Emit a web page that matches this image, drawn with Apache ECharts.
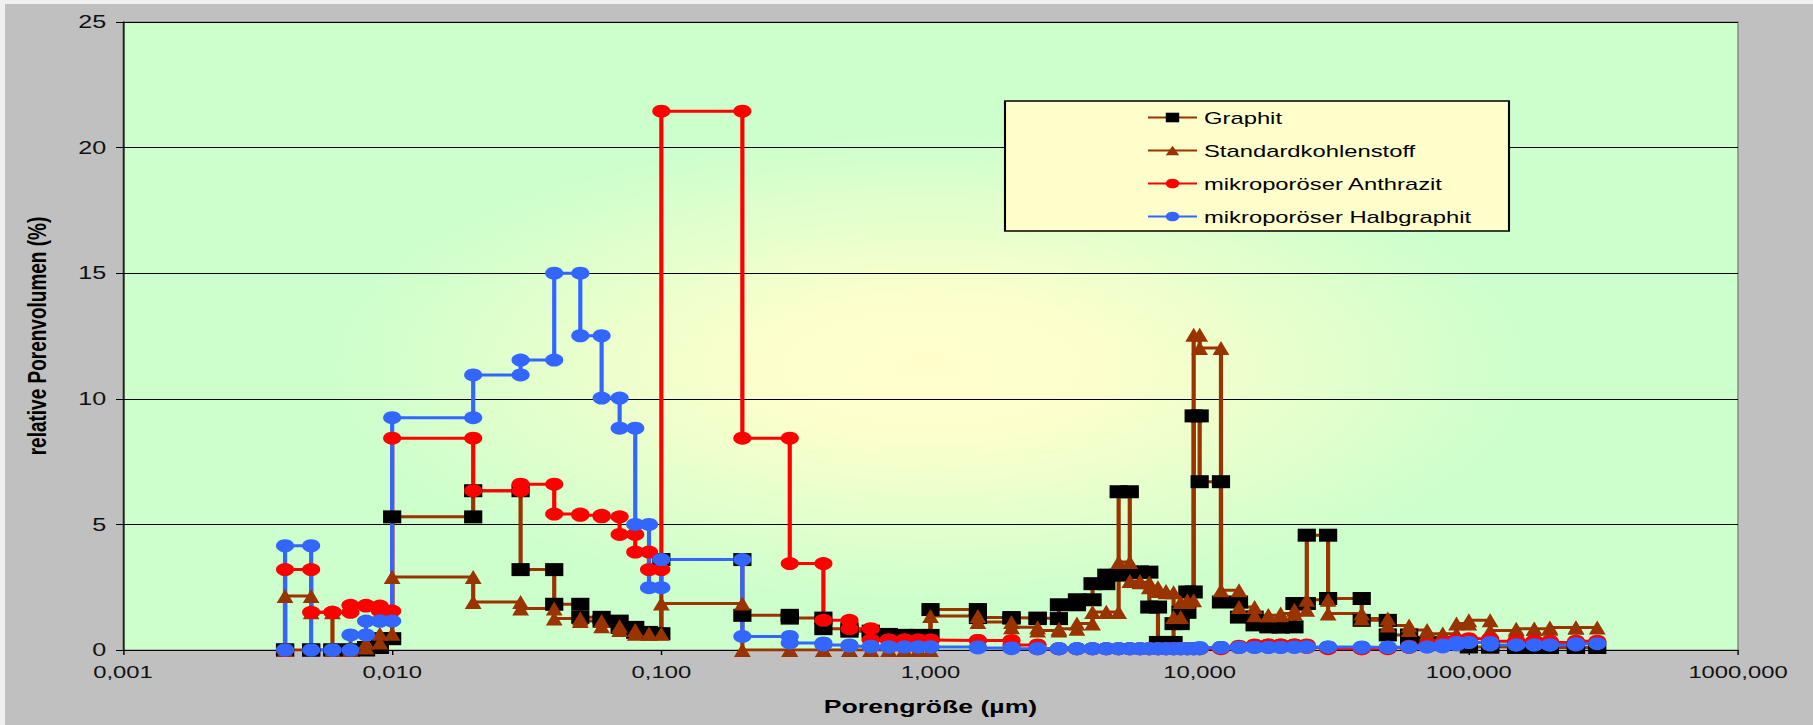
<!DOCTYPE html>
<html lang="de">
<head>
<meta charset="UTF-8">
<title>Porenverteilung</title>
<script src="https://cdn.jsdelivr.net/npm/echarts@6/dist/echarts.min.js"></script>
<style>
  html, body { margin: 0; padding: 0; background: #c0c0c0; overflow: hidden; }
  /* the original picture is stretched horizontally, so the chart is drawn narrow and scaled */
  #chart { width: 1295px; height: 725px; transform: scaleX(1.4); transform-origin: 0 0; }
</style>
</head>
<body>
<div id="chart"></div>
<script>
// bin edges (µm), shared by all four series
var edges = [0.004, 0.005, 0.006, 0.007, 0.008, 0.009, 0.01,
  0.02, 0.03, 0.04, 0.05, 0.06, 0.07, 0.08, 0.09, 0.1,
  0.2, 0.3, 0.4, 0.5, 0.6, 0.7, 0.8, 0.9, 1,
  1.5, 2, 2.5, 3, 3.5, 4, 4.5, 5, 5.5, 6, 6.5, 7, 7.5, 8, 8.5, 9, 9.5, 10,
  12, 14, 16, 18, 20, 22.5, 25, 30,
  40, 50, 60, 70, 80, 90, 100,
  120, 150, 175, 200, 250, 300];

// relative pore volume (%) per bin
var graphit = [0, 0, 0, 0, 0.1, 0.45,
  5.3, 6.34, 3.2, 1.82, 1.3, 1.15, 0.9, 0.7, 0.65,
  3.6, 1.38, 1.27, 0.85, 0.75, 0.62, 0.58, 0.58, 0.58,
  1.61, 1.29, 1.27, 1.25, 1.8, 2.0, 2.64, 2.98, 6.3, 3.1, 3.1, 1.71, 0.3, 0.3, 1.05, 1.5, 2.31, 9.32,
  6.7, 1.91, 1.31, 1.0, 0.92, 0.92, 1.85, 4.57,
  2.05, 1.18, 0.6, 0.3, 0.3, 0.25, 0.25,
  0.12, 0.12, 0.1, 0.1, 0.1, 0.1];
var standard = [2.15, 1.5, 0, 0.1, 0.3, 0.65,
  2.91, 1.91, 1.65, 1.25, 1.15, 0.95, 0.8, 0.65, 0.65,
  1.85, 0, 0, 0, 0, 0, 0, 0, 0,
  1.35, 1.11, 0.91, 0.78, 0.85, 1.05, 1.51, 1.51, 3.5, 2.75, 2.7, 2.5, 2.35, 2.3, 1.31, 1.91, 1.98, 12.55,
  12.02, 2.38, 1.71, 1.38, 1.38, 1.45, 1.6, 2.0,
  1.45, 1.25, 0.98, 0.8, 0.65, 0.65, 1.05,
  1.18, 0.78, 0.85, 0.85, 0.9, 0.9];
var anthrazit = [3.2, 1.5, 1.5, 1.78, 1.75, 1.55,
  8.43, 6.34, 6.6, 5.41, 5.36, 5.3, 4.6, 3.9, 3.2,
  21.45, 8.43, 3.44, 1.18, 0.85, 0.4, 0.4, 0.4, 0.4,
  0.38, 0.38, 0.2, 0.05, 0.05, 0.05, 0.05, 0.05, 0.05, 0.05, 0.05, 0.05, 0.05, 0.05, 0.05, 0.05, 0.05, 0.05,
  0.05, 0.1, 0.15, 0.2, 0.2, 0.2, 0.2, 0.1,
  0.05, 0.05, 0.1, 0.15, 0.2, 0.3, 0.4,
  0.45, 0.35, 0.35, 0.35, 0.3, 0.35];
var halbgraphit = [4.15, 0, 0, 0.6, 1.15, 1.15,
  9.25, 10.95, 11.54, 15.0, 12.51, 10.03, 8.83, 5.0, 2.48,
  3.6, 0.54, 0.28, 0.2, 0.15, 0.12, 0.12, 0.12, 0.12,
  0.12, 0.08, 0.05, 0.05, 0.05, 0.05, 0.05, 0.05, 0.05, 0.05, 0.05, 0.05, 0.05, 0.05, 0.05, 0.05, 0.05, 0.05,
  0.1, 0.1, 0.1, 0.1, 0.1, 0.1, 0.12, 0.12,
  0.12, 0.1, 0.12, 0.12, 0.12, 0.2, 0.3,
  0.3, 0.2, 0.2, 0.2, 0.2, 0.25];

var names = ['Graphit', 'Standardkohlenstoff', 'mikroporöser Anthrazit', 'mikroporöser Halbgraphit'];

// each bin is drawn as a step: a point at both of its edges
function steps(vals) {
  var pts = [[edges[0], 0]];
  for (var i = 0; i < vals.length; i++) {
    pts.push([edges[i], vals[i]], [edges[i + 1], vals[i]]);
  }
  return pts;
}

var S = 1.4;
var W = 1813 / S, H = 725;
var gridL = 123 / S, gridR = 75 / S, gridT = 22, gridB = 75;
var plotW = W - gridL - gridR, plotH = H - gridT - gridB;
var font = "'Liberation Sans', Arial, sans-serif";

var chart = echarts.init(document.getElementById('chart'), null, { renderer: 'svg' });

function lineSeries(name, vals, lineColor, symColor, symbol, size) {
  return {
    name: name, type: 'line', data: steps(vals),
    symbol: symbol, symbolSize: size, showAllSymbol: true,
    lineStyle: { color: lineColor, width: 3 },
    itemStyle: { color: symColor },
    animation: false
  };
}

chart.setOption({
  backgroundColor: '#c0c0c0',
  animation: false,
  graphic: [
    { type: 'rect', z: -5, silent: true, shape: { x: 0, y: 0, width: W, height: 4 }, style: { fill: '#f0f0f0' } },
    { type: 'rect', z: -5, silent: true, shape: { x: 0, y: 0, width: 5 / S, height: H }, style: { fill: '#f0f0f0' } },
    {
      type: 'rect', z: -1, silent: true,
      x: gridL, y: gridT, scaleX: plotW / plotH,
      shape: { x: 0, y: 0, width: plotH, height: plotH },
      style: {
        fill: new echarts.graphic.RadialGradient(0.5, 0.55, 0.55, [
          { offset: 0, color: '#ffffcc' },
          { offset: 0.2, color: '#fcffcc' },
          { offset: 0.68, color: '#ccffcc' },
          { offset: 1, color: '#ccffcc' }
        ])
      }
    },
    {
      type: 'rect', z: 3, silent: true,
      shape: { x: 1005 / S, y: 101, width: (1509 - 1005) / S, height: 130 },
      style: { fill: '#ffffcc', stroke: '#000', lineWidth: 1.5 }
    }
  ],
  grid: {
    left: gridL, right: gridR, top: gridT, bottom: gridB,
    show: true, backgroundColor: 'transparent', borderColor: '#808080', borderWidth: 1
  },
  legend: {
    orient: 'vertical', left: 814, top: 104, z: 5,
    itemWidth: 35, itemHeight: 12, itemGap: 16,
    textStyle: { fontFamily: font, fontSize: 17, color: '#000' },
    data: names
  },
  xAxis: {
    type: 'log', logBase: 10, min: 0.001, max: 1000,
    name: 'Porengröße (µm)', nameLocation: 'middle', nameGap: 47,
    nameTextStyle: { fontFamily: font, fontSize: 19, fontWeight: 'bold', color: '#000' },
    axisLine: { lineStyle: { color: '#000', width: 1 } },
    axisTick: { show: true, length: 5, lineStyle: { color: '#000' } },
    minorTick: { show: false },
    splitLine: { show: false },
    axisLabel: {
      fontFamily: font, fontSize: 17, color: '#111', margin: 13,
      formatter: function (v) { return v.toFixed(3).replace('.', ','); }
    }
  },
  yAxis: {
    type: 'value', min: 0, max: 25, interval: 5,
    name: 'relative Porenvolumen (%)', nameLocation: 'middle', nameGap: 52,
    nameTextStyle: { fontFamily: font, fontSize: 19, fontWeight: 'bold', color: '#000' },
    axisLine: { show: true, lineStyle: { color: '#000', width: 1 } },
    axisTick: { show: true, length: 5, lineStyle: { color: '#000' } },
    splitLine: { show: true, lineStyle: { color: '#000', width: 1 } },
    axisLabel: { fontFamily: font, fontSize: 18, color: '#111', margin: 12 }
  },
  series: [
    lineSeries(names[0], graphit, '#993300', '#000000', 'rect', 13),
    lineSeries(names[1], standard, '#993300', '#993300', 'triangle', [12, 14]),
    lineSeries(names[2], anthrazit, '#ff0000', '#ff0000', 'circle', 13),
    lineSeries(names[3], halbgraphit, '#3366ff', '#3366ff', 'circle', 13)
  ]
});
</script>
</body>
</html>
